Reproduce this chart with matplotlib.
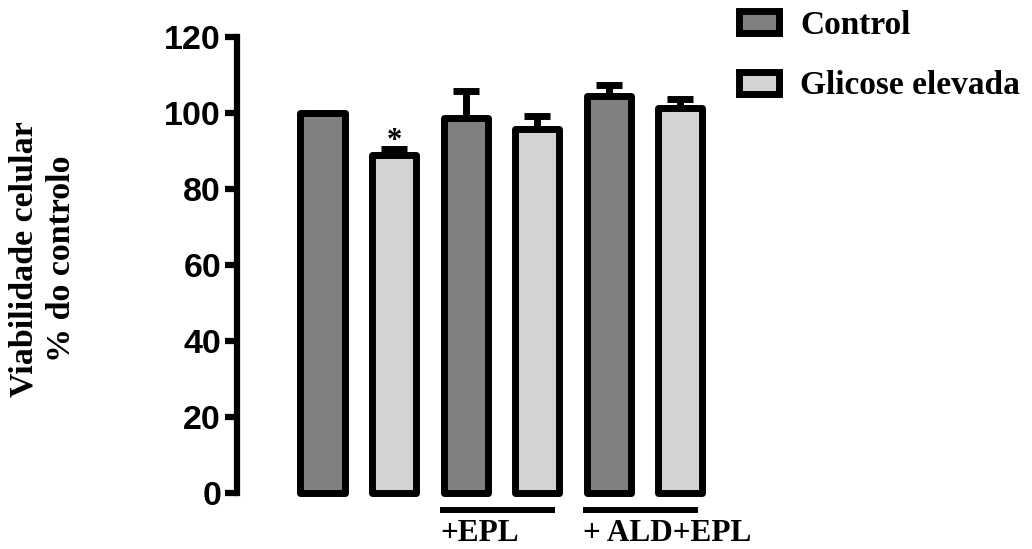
import numpy as np
import matplotlib
matplotlib.use('Agg')
import matplotlib.pyplot as plt
from matplotlib.patches import Patch

# dados
grupos = ['Control', 'Glicose elevada', 'Control', 'Glicose elevada', 'Control', 'Glicose elevada']
valores = [100.0, 88.8, 98.5, 95.8, 104.4, 101.1]
erros = [0.0, 1.6, 7.3, 3.3, 2.9, 2.4]
cores = {'Control': '#808080', 'Glicose elevada': '#d3d3d3'}
yticks = [0, 20, 40, 60, 80, 100, 120]
tratamentos = ['+EPL', '+ ALD+EPL']
pares = [(2, 3), (4, 5)]

serif = ['Liberation Serif', 'DejaVu Serif']
sans = ['Liberation Sans', 'DejaVu Sans']

fig = plt.figure(figsize=(10.32, 5.49), dpi=100)
ax = fig.add_axes([237/1032, 0.1026, (720-237)/1032, 0.8306])

x = np.arange(len(valores))
w = 0.615
ax.errorbar(x, valores, yerr=[np.zeros(len(erros)), erros], fmt='none',
            ecolor='black', elinewidth=5, capsize=9.5, capthick=5, zorder=1, clip_on=False)
bars = ax.bar(x, valores, width=w, color=[cores[g] for g in grupos],
              edgecolor='black', linewidth=5, zorder=2, clip_on=False)
for b in bars:
    b.set_joinstyle('round')

ax.set_xlim(-1.194, 5.552)
ax.set_ylim(0, 120)
ax.set_yticks(yticks)
ax.set_xticks([])
for s in ['top', 'right', 'bottom']:
    ax.spines[s].set_visible(False)
ax.spines['left'].set_linewidth(4.5)
ax.spines['left'].set_bounds(0, 120)
ax.tick_params(axis='y', direction='out', length=8.5, width=4.5, pad=3)
for lab in ax.get_yticklabels():
    lab.set_fontfamily(sans)
    lab.set_fontweight('bold')
    lab.set_fontsize(24.5)

# asterisco
ax.text(x[1], valores[1] + erros[1], '*', ha='center', va='baseline',
        fontsize=22, fontweight='bold', family=serif)

# linhas dos tratamentos
for nome, (a, b) in zip(tratamentos, pares):
    x0 = x[a] - w/2 - 0.05
    x1 = x[b] + w/2 - 0.06
    ax.plot([x0, x1], [-4.6, -4.6], color='black', lw=4.3, solid_capstyle='butt', clip_on=False)
    ax.text(x0, -12.8, nome, ha='left', va='baseline', fontsize=22.5,
            fontweight='bold', family=serif)

fig.text(43/1032, 0.528, 'Viabilidade celular\n% do controlo', rotation=90,
         ha='center', va='center', multialignment='center', linespacing=1.25,
         fontsize=24.5, fontweight='bold', family=serif)

handles = [Patch(facecolor=cores['Control'], edgecolor='black', linewidth=5),
           Patch(facecolor=cores['Glicose elevada'], edgecolor='black', linewidth=5)]
leg = fig.legend(handles, ['Control', 'Glicose elevada'], loc='upper left',
                 bbox_to_anchor=(738.5/1032, 1 - 9.5/549), frameon=False,
                 handlelength=1.2, handleheight=0.66, handletextpad=0.66,
                 labelspacing=0.9, borderpad=0, borderaxespad=0,
                 prop={'family': serif, 'weight': 'bold', 'size': 24})

fig.savefig('out.png', dpi=100)
